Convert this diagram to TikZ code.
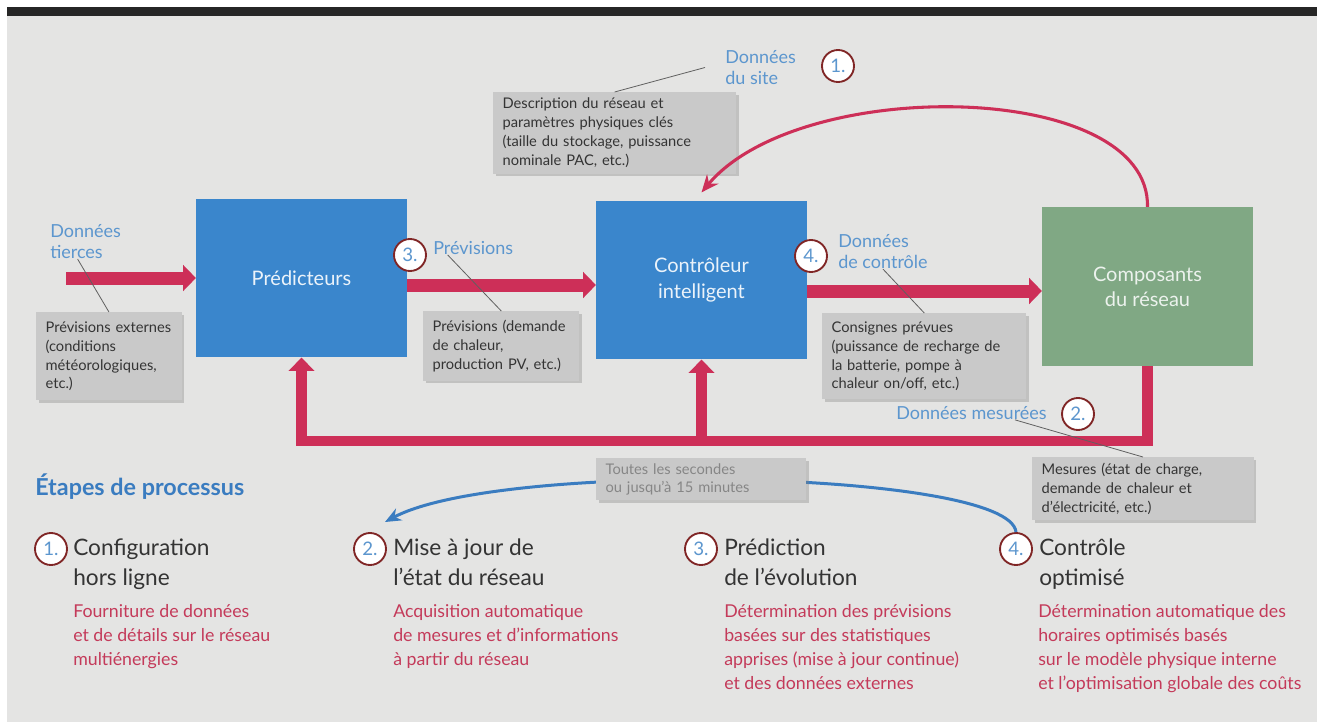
\documentclass[tikz,border=0pt]{standalone}
\usepackage{fontspec}
\setmainfont{Lato}
\usetikzlibrary{arrows.meta,shadows,positioning}

\definecolor{paper}{RGB}{228,228,227}
\definecolor{crimson}{RGB}{205,47,88}
\definecolor{boxblue}{RGB}{58,134,204}
\definecolor{boxgreen}{RGB}{128,168,132}
\definecolor{lblblue}{RGB}{92,150,206}
\definecolor{ringred}{RGB}{128,38,38}
\definecolor{notegray}{RGB}{201,201,201}
\definecolor{inkgray}{RGB}{52,52,52}
\definecolor{descred}{RGB}{196,58,90}
\definecolor{curveblue}{RGB}{58,124,192}

\tikzset{
  block/.style={minimum width=158pt, minimum height=119pt, inner sep=0pt, align=center,
    font=\fontsize{15}{19}\selectfont},
  note/.style={fill=notegray, anchor=north west, inner xsep=7pt, inner ysep=3pt, align=left,
    text=inkgray, font=\fontsize{11}{14.2}\selectfont,
    drop shadow={shadow xshift=2pt, shadow yshift=-2pt, opacity=.35}},
  tag/.style={text=lblblue, inner sep=0pt, align=left, font=\fontsize{13.5}{16}\selectfont},
  ring/.style={circle, draw=ringred, line width=1.4pt, fill=white, minimum size=24pt,
    inner sep=0pt, text=lblblue, font=\fontsize{14}{14}\selectfont},
  flow/.style={crimson, line width=9.75pt, -{Triangle[width=19pt,length=9.5pt]}},
  back/.style={crimson, line width=8pt, line join=miter, -{Triangle[width=19pt,length=10pt]}},
  leader/.style={gray!75!black, line width=0.6pt},
  steptitle/.style={anchor=north west, inner sep=0pt, align=left, text=inkgray,
    font=\fontsize{17}{22}\selectfont},
  stepdesc/.style={anchor=north west, inner sep=0pt, align=left, text=descred,
    font=\fontsize{13.3}{18}\selectfont}
}

\begin{document}
\begin{tikzpicture}[x=0.75pt, y=-0.75pt]

  \fill[white] (0,0) rectangle (1317,722);
  \fill[paper] (7,16) rectangle (1317,722);
  \fill[black!85] (7,7) rectangle (1317,16);
  \useasboundingbox (0,0) rectangle (1317,722);

  \node[block, fill=boxblue, text=white!90!boxblue] (pred) at (301.5,278) {Prédicteurs};
  \node[block, fill=boxblue, text=white!90!boxblue] (ctrl) at (701.5,280) {Contrôleur\\intelligent};
  \node[block, fill=boxgreen, text=white!85!boxgreen] (comp) at (1147.5,286.5) {Composants\\du réseau};

  \coordinate (feed) at (66,278);
  \draw[flow] (feed) -- (pred.west);
  \draw[flow] (pred.east |- 0,285) -- (ctrl.west |- 0,285);
  \draw[flow] (ctrl.east |- 0,291) -- (comp.west |- 0,291);

  \draw[back] (comp.south) |- (pred.south |- 0,441) -- (pred.south);
  \draw[back] (ctrl.south |- 0,441) -- (ctrl.south);

  \node[tag, anchor=west] (tiertag) at (50,241.5) {Données\\tierces};
  \node[tag, anchor=west] (prevtag) at (433,248) {Prévisions};
  \node[tag, anchor=west] (sitetag) at (725,67.5) {Données\\du site};
  \node[tag, anchor=west] (ctrltag) at (838,251.5) {Données\\de contrôle};
  \node[tag, anchor=east] (mestag) at (1047,413) {Données mesurées};

  \node[note, text width=95pt, minimum height=66pt] (extnote) at (36,312)
    {Prévisions externes\\(conditions\\météorologiques,\\etc.)};
  \node[note, text width=103pt, minimum height=52pt] (prevnote) at (423,311)
    {Prévisions (demande\\de chaleur,\\production PV, etc.)};
  \node[note, text width=168pt, minimum height=61pt] (sitenote) at (493,92)
    {Description du réseau et\\paramètres physiques clés\\(taille du stockage, puissance\\nominale PAC, etc.)};
  \node[note, text width=139pt, minimum height=64.5pt] (ctrlnote) at (822,313)
    {Consignes prévues\\(puissance de recharge de\\la batterie, pompe à\\chaleur on/off, etc.)};
  \node[note, text width=152pt, minimum height=47pt] (mesnote) at (1032,457)
    {Mesures (état de charge,\\demande de chaleur et\\d’électricité, etc.)};

  \draw[crimson, line width=2.3pt, -{Stealth[length=13pt,width=11pt]}]
    (comp.north) .. controls (1150,80) and (800,75) .. ([yshift=6pt]ctrl.north);

  \draw[leader] ([xshift=-6pt]tiertag.south) -- (extnote.north);
  \draw[leader] ([xshift=11pt]prevtag.south west) -- (prevnote.north);
  \draw[leader] ([xshift=-15pt]sitetag.west) -- (sitenote.north);
  \draw[leader] (ctrltag.south) -- (ctrlnote.north);
  \draw[leader] ([xshift=-24pt]mestag.south east) -- (mesnote.north);

  \node[ring] (r1) at (838,66) {1.};
  \node[ring] (r3) at (410,255) {3.};
  \node[ring] (r4) at (811,256) {4.};
  \node[ring] (r2) at (1078,414) {2.};

  \node[anchor=west, inner sep=0pt, text=curveblue, font=\bfseries\fontsize{17.5}{17.5}\selectfont]
    (head) at (35,487) {Étapes de processus};

  \node[ring] (s1) at (51,549) {1.};
  \node[ring] (s2) at (370,549) {2.};
  \node[ring] (s3) at (701,549) {3.};
  \node[ring] (s4) at (1016,549) {4.};

  \coordinate (loopend) at (385,522);
  \draw[curveblue, line width=2.25pt, -{Stealth[length=12pt,width=10pt]}]
    (s4.north) .. controls (1010,470) and (500,460) .. (loopend);
  \node[note, text width=143.5pt, minimum height=31.5pt, text=gray!95!white,
    font=\fontsize{11}{13}\selectfont] (ratenote) at (596,458)
    {Toutes les secondes\\ou jusqu’à 15 minutes};

  \node[steptitle] (t1) at (73,539) {Configuration\\hors ligne};
  \node[steptitle] (t2) at (393,539) {Mise à jour de\\l’état du réseau};
  \node[steptitle] (t3) at (724,539) {Prédiction\\de l’évolution};
  \node[steptitle] (t4) at (1039,539) {Contrôle\\optimisé};

  \node[stepdesc] (d1) at (73,604) {Fourniture de données\\et de détails sur le réseau\\multiénergies};
  \node[stepdesc] (d2) at (393,604) {Acquisition automatique\\de mesures et d’informations\\à partir du réseau};
  \node[stepdesc] (d3) at (724,604) {Détermination des prévisions\\basées sur des statistiques\\apprises (mise à jour continue)\\et des données externes};
  \node[stepdesc] (d4) at (1038,604) {Détermination automatique des\\horaires optimisés basés\\sur le modèle physique interne\\et l’optimisation globale des coûts};

\end{tikzpicture}
\end{document}
